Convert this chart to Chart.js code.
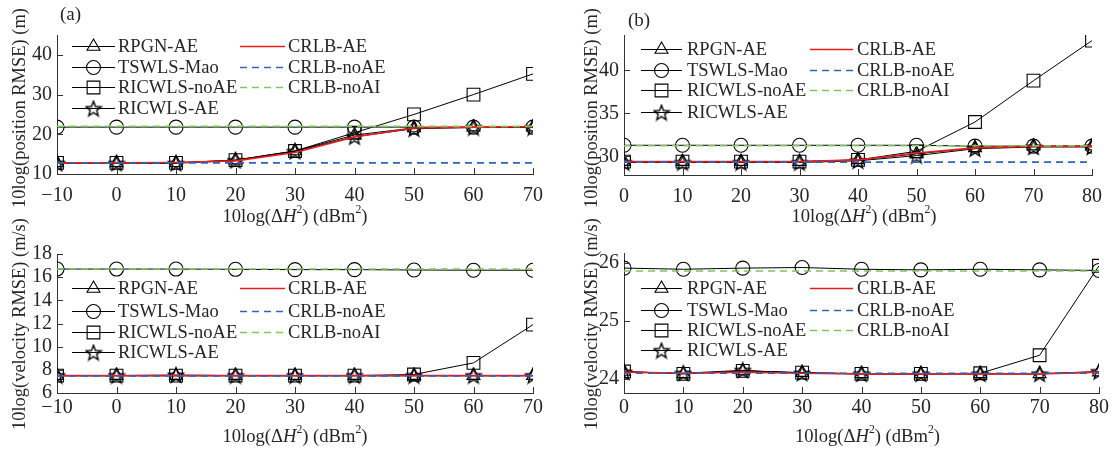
<!DOCTYPE html>
<html>
<head>
<meta charset="utf-8">
<script src="https://cdn.jsdelivr.net/npm/chart.js@4.4.1/dist/chart.umd.min.js"></script>
<style>
body { margin: 0; background: #fff; width: 1112px; height: 452px; position: relative; overflow: hidden; }
canvas { position: absolute; }
</style>
</head>
<body>
<canvas id="posA" width="556" height="226" style="left:0;top:0"></canvas>
<canvas id="posB" width="556" height="226" style="left:556px;top:0"></canvas>
<canvas id="velA" width="556" height="256" style="left:0;top:196px"></canvas>
<canvas id="velB" width="556" height="256" style="left:556px;top:196px"></canvas>
<script>
// x values (10log(dH^2), dBm^2)
const xA = [-10, 0, 10, 20, 30, 40, 50, 60, 70];
const xB = [0, 10, 20, 30, 40, 50, 60, 70, 80];

const seriesNames = ['RPGN-AE', 'TSWLS-Mao', 'RICWLS-noAE', 'RICWLS-AE', 'CRLB-AE', 'CRLB-noAE', 'CRLB-noAI'];

// (a) position RMSE
const posA_rpgn   = [12.8, 12.8, 12.8, 13.5, 15.8, 19.8, 21.6, 21.8, 21.8];
const posA_tswls  = [21.8, 21.8, 21.8, 21.8, 21.8, 21.8, 21.8, 21.8, 21.8];
const posA_noAE   = [12.8, 12.8, 12.8, 13.5, 15.8, 20.4, 25.0, 30.0, 35.2];
const posA_ricAE  = [12.7, 12.7, 12.7, 13.4, 15.7, 19.4, 21.4, 21.7, 21.7];
const posA_crlbAE = [12.8, 12.8, 12.9, 13.3, 15.4, 19.3, 21.6, 21.8, 21.9];
const posA_crlbNoAE = [12.8, 12.8, 12.8, 12.8, 12.8, 12.8, 12.8, 12.8, 12.8];
const posA_crlbNoAI = [22.0, 22.0, 22.0, 22.0, 22.0, 22.0, 22.0, 22.0, 22.0];

// (a) velocity RMSE
const velA_rpgn   = [7.5, 7.5, 7.5, 7.5, 7.5, 7.5, 7.5, 7.5, 7.5];
const velA_tswls  = [16.7, 16.7, 16.7, 16.68, 16.65, 16.65, 16.62, 16.6, 16.6];
const velA_noAE   = [7.5, 7.5, 7.5, 7.5, 7.5, 7.5, 7.6, 8.6, 11.9];
const velA_ricAE  = [7.5, 7.5, 7.55, 7.5, 7.5, 7.5, 7.5, 7.5, 7.5];
const velA_crlbAE = [7.5, 7.5, 7.5, 7.5, 7.5, 7.5, 7.5, 7.5, 7.5];
const velA_crlbNoAE = [7.47, 7.47, 7.47, 7.47, 7.47, 7.47, 7.47, 7.47, 7.47];
const velA_crlbNoAI = [16.7, 16.7, 16.7, 16.7, 16.7, 16.7, 16.7, 16.7, 16.7];

// (b) position RMSE
const posB_rpgn   = [29.4, 29.4, 29.4, 29.4, 29.6, 30.3, 31.0, 31.2, 31.2];
const posB_tswls  = [31.3, 31.3, 31.3, 31.3, 31.3, 31.3, 31.2, 31.2, 31.2];
const posB_noAE   = [29.4, 29.4, 29.4, 29.4, 29.6, 30.6, 34.0, 38.8, 43.45];
const posB_ricAE  = [29.3, 29.3, 29.3, 29.3, 29.5, 30.1, 30.9, 31.1, 31.1];
const posB_crlbAE = [29.4, 29.4, 29.4, 29.4, 29.6, 30.4, 31.0, 31.2, 31.2];
const posB_crlbNoAE = [29.35, 29.35, 29.35, 29.35, 29.35, 29.35, 29.35, 29.35, 29.35];
const posB_crlbNoAI = [31.25, 31.25, 31.25, 31.25, 31.25, 31.25, 31.25, 31.25, 31.25];

// (b) velocity RMSE
const velB_rpgn   = [24.13, 24.09, 24.14, 24.11, 24.09, 24.09, 24.09, 24.09, 24.12];
const velB_tswls  = [25.91, 25.89, 25.91, 25.92, 25.89, 25.88, 25.89, 25.88, 25.87];
const velB_noAE   = [24.13, 24.09, 24.14, 24.11, 24.09, 24.09, 24.1, 24.41, 25.95];
const velB_ricAE  = [24.12, 24.1, 24.15, 24.1, 24.09, 24.09, 24.09, 24.09, 24.13];
const velB_crlbAE = [24.12, 24.1, 24.12, 24.1, 24.09, 24.09, 24.09, 24.09, 24.12];
const velB_crlbNoAE = [24.1, 24.1, 24.1, 24.1, 24.1, 24.1, 24.1, 24.1, 24.1];
const velB_crlbNoAI = [25.86, 25.86, 25.86, 25.86, 25.86, 25.86, 25.86, 25.86, 25.86];

const FONT = '"Liberation Serif", "Times New Roman", serif';
const TXT = '#262626';
const AXIS = '#333333';

// pentagram marker
function makeStar() {
  const c = document.createElement('canvas');
  c.width = 18; c.height = 18;
  const g = c.getContext('2d');
  g.strokeStyle = '#000';
  g.lineWidth = 1.4;
  g.lineJoin = 'miter';
  g.beginPath();
  for (let k = 0; k < 10; k++) {
    const r = k % 2 ? 3.4 : 8.0;
    const a = -Math.PI / 2 + k * Math.PI / 5;
    const px = 9 + r * Math.cos(a), py = 9.8 + r * Math.sin(a);
    if (k) g.lineTo(px, py); else g.moveTo(px, py);
  }
  g.closePath();
  g.stroke();
  return c;
}
const starImg = makeStar();

const mk = { borderColor: '#000', borderWidth: 1, pointBorderColor: '#000', pointBorderWidth: 1.1,
  pointBackgroundColor: 'rgba(0,0,0,0)' };
const styles = [
  Object.assign({}, mk, { pointStyle: 'triangle', pointRadius: 7.5, order: 6 }),
  Object.assign({}, mk, { pointStyle: 'circle', pointRadius: 7, order: 5 }),
  Object.assign({}, mk, { pointStyle: 'rect', pointRadius: 9, order: 4 }),
  Object.assign({}, mk, { pointStyle: starImg, pointRadius: 8, order: 3 }),
  { borderColor: '#ee1d1d', borderWidth: 1.6, pointRadius: 0, order: 2 },
  { borderColor: '#2f63c0', borderWidth: 1.6, borderDash: [7, 5], pointRadius: 0, order: 1 },
  { borderColor: '#7cc95a', borderWidth: 1.6, borderDash: [7, 5], pointRadius: 0, order: 0 }
];

function fmt(v) {
  return v < 0 ? '\u2212' + Math.abs(v) : String(v);
}

// x title with italic H and superscripts, scaled to a target width
function drawXTitle(ctx, cx, cy, target) {
  const build = s => [['10log(\u0394', s + 'px ' + FONT, 0], ['H', 'italic ' + s + 'px ' + FONT, 0],
    ['2', (s * 0.63) + 'px ' + FONT, -s * 0.36], [') (dBm', s + 'px ' + FONT, 0],
    ['2', (s * 0.63) + 'px ' + FONT, -s * 0.36], [')', s + 'px ' + FONT, 0]];
  const width = parts => parts.reduce((w, p) => { ctx.font = p[1]; return w + ctx.measureText(p[0]).width; }, 0);
  let s = 19;
  s = s * target / width(build(s));
  const parts = build(s);
  let x = cx - width(parts) / 2;
  ctx.textAlign = 'left';
  ctx.textBaseline = 'middle';
  parts.forEach(p => { ctx.font = p[1]; ctx.fillText(p[0], x, cy + p[2]); x += ctx.measureText(p[0]).width; });
}

const panelDecor = {
  id: 'panelDecor',
  afterDraw(chart, args, o) {
    const ctx = chart.ctx, a = chart.chartArea;
    const xs = chart.scales.x, ys = chart.scales.y;
    ctx.save();
    // inward ticks
    ctx.strokeStyle = AXIS;
    ctx.lineWidth = 1;
    ctx.beginPath();
    xs.ticks.forEach(t => {
      const px = Math.round(xs.getPixelForValue(t.value)) + 0.5;
      ctx.moveTo(px, a.bottom); ctx.lineTo(px, a.bottom - 6);
    });
    ys.ticks.forEach(t => {
      const py = Math.round(ys.getPixelForValue(t.value)) + 0.5;
      ctx.moveTo(a.left, py); ctx.lineTo(a.left + 6, py);
    });
    ctx.stroke();

    ctx.fillStyle = TXT;
    drawXTitle(ctx, (a.left + a.right) / 2 + (o.xTitleDx || 0), o.xTitleY, 145);

    // y title, sized to its length in the reference
    ctx.save();
    ctx.font = '19px ' + FONT;
    const ys0 = 19 * o.yTitleLen / ctx.measureText(o.yTitle).width;
    ctx.font = ys0 + 'px ' + FONT;
    ctx.translate(o.yTitleX, o.yTitleY);
    ctx.rotate(-Math.PI / 2);
    ctx.textAlign = 'center';
    ctx.textBaseline = 'middle';
    ctx.fillText(o.yTitle, 0, 0);
    ctx.restore();

    if (o.tag) {
      ctx.font = '19px ' + FONT;
      ctx.textAlign = 'left';
      ctx.textBaseline = 'middle';
      ctx.fillText(o.tag, o.tagX, o.tagY);
    }

    // legend, two columns
    const L = o.legend;
    chart.data.datasets.forEach((ds, i) => {
      const col = i < 4 ? L.c1 : L.c2;
      const y = (i < 4 ? L.rows1 : L.rows2)[i < 4 ? i : i - 4];
      ctx.save();
      ctx.strokeStyle = ds.borderColor;
      ctx.lineWidth = ds.borderWidth;
      ctx.setLineDash(ds.borderDash || []);
      ctx.beginPath();
      ctx.moveTo(col[0], y + 0.5); ctx.lineTo(col[1], y + 0.5);
      ctx.stroke();
      ctx.restore();
      if (ds.pointRadius) {
        ctx.save();
        ctx.strokeStyle = '#000';
        ctx.fillStyle = 'rgba(0,0,0,0)';
        ctx.lineWidth = 1.1;
        Chart.helpers.drawPoint(ctx, { pointStyle: ds.pointStyle, radius: ds.pointRadius, rotation: 0, borderWidth: 1.1 },
          (col[0] + col[1]) / 2, y + 0.5);
        ctx.restore();
      }
      ctx.fillStyle = TXT;
      ctx.font = '18.5px ' + FONT;
      ctx.textAlign = 'left';
      ctx.textBaseline = 'middle';
      ctx.fillText(ds.label, col[2], y + 1);
    });
    ctx.restore();
  }
};

function makePanel(id, xs, vals, p) {
  const datasets = vals.map((v, i) => Object.assign({
    label: seriesNames[i],
    data: xs.map((xv, j) => ({ x: xv, y: v[j] })),
    tension: 0,
    fill: false
  }, styles[i]));
  new Chart(document.getElementById(id), {
    type: 'line',
    data: { datasets: datasets },
    plugins: [panelDecor],
    options: {
      responsive: false,
      animation: false,
      layout: { padding: { left: 0, right: p.right, top: p.top, bottom: 0 } },
      plugins: {
        legend: { display: false },
        tooltip: { enabled: false },
        panelDecor: p.decor
      },
      scales: {
        x: {
          type: 'linear', min: xs[0], max: xs[xs.length - 1],
          ticks: { stepSize: 10, autoSkip: false, color: TXT, font: { family: FONT, size: 20 }, padding: p.xPad, callback: fmt, maxRotation: 0 },
          grid: { display: false, drawTicks: false },
          border: { color: AXIS, width: 1 },
          afterFit: s => { s.height = p.xH; }
        },
        y: {
          min: p.ymin, max: p.ymax,
          ticks: { stepSize: p.step, autoSkip: false, includeBounds: false, color: TXT, font: { family: FONT, size: 20 }, padding: 5, callback: fmt },
          grid: { display: false, drawTicks: false },
          border: { color: AXIS, width: 1 },
          afterFit: s => { s.width = p.left; }
        }
      }
    }
  });
}

makePanel('posA', xA, [posA_rpgn, posA_tswls, posA_noAE, posA_ricAE, posA_crlbAE, posA_crlbNoAE, posA_crlbNoAI], {
  left: 57, right: 23, top: 35, xH: 52, xPad: 10, ymin: 10, ymax: 45, step: 10,
  decor: { yTitle: '10log(position RMSE) (m)', yTitleLen: 200, yTitleX: 20, yTitleY: 108, xTitleY: 217, tag: '(a)', tagX: 60, tagY: 15,
    legend: { c1: [72, 115, 118], c2: [240, 285, 288], rows1: [46, 67, 87, 108], rows2: [46, 67, 87] } }
});
makePanel('posB', xB, [posB_rpgn, posB_tswls, posB_noAE, posB_ricAE, posB_crlbAE, posB_crlbNoAE, posB_crlbNoAI], {
  left: 68, right: 11, top: 35, xH: 51, xPad: 10, ymin: 27.85, ymax: 44.1, step: 5,
  decor: { yTitle: '10log(position RMSE) (m)', yTitleLen: 200, yTitleX: 36, yTitleY: 108, xTitleY: 217, xTitleDx: 6, tag: '(b)', tagX: 72, tagY: 21,
    legend: { c1: [85, 126, 131], c2: [254, 297, 301], rows1: [49, 70, 90, 112], rows2: [49, 70, 90] } }
});
makePanel('velA', xA, [velA_rpgn, velA_tswls, velA_noAE, velA_ricAE, velA_crlbAE, velA_crlbNoAE, velA_crlbNoAI], {
  left: 57, right: 23, top: 58, xH: 59, xPad: 3, ymin: 6, ymax: 18, step: 2,
  decor: { yTitle: '10log(velocity RMSE) (m/s)', yTitleLen: 212, yTitleX: 20, yTitleY: 128, xTitleY: 241,
    legend: { c1: [72, 115, 118], c2: [240, 285, 288], rows1: [92, 115, 136, 156], rows2: [92, 115, 136] } }
});
makePanel('velB', xB, [velB_rpgn, velB_tswls, velB_noAE, velB_ricAE, velB_crlbAE, velB_crlbNoAE, velB_crlbNoAI], {
  left: 68, right: 11, top: 57, xH: 59, xPad: 3, ymin: 23.76, ymax: 26.17, step: 1,
  decor: { yTitle: '10log(velocity RMSE) (m/s)', yTitleLen: 212, yTitleX: 36, yTitleY: 128, xTitleY: 241, xTitleDx: 6,
    legend: { c1: [85, 126, 131], c2: [254, 297, 301], rows1: [92, 114, 134, 154], rows2: [92, 114, 134] } }
});
</script>
</body>
</html>
